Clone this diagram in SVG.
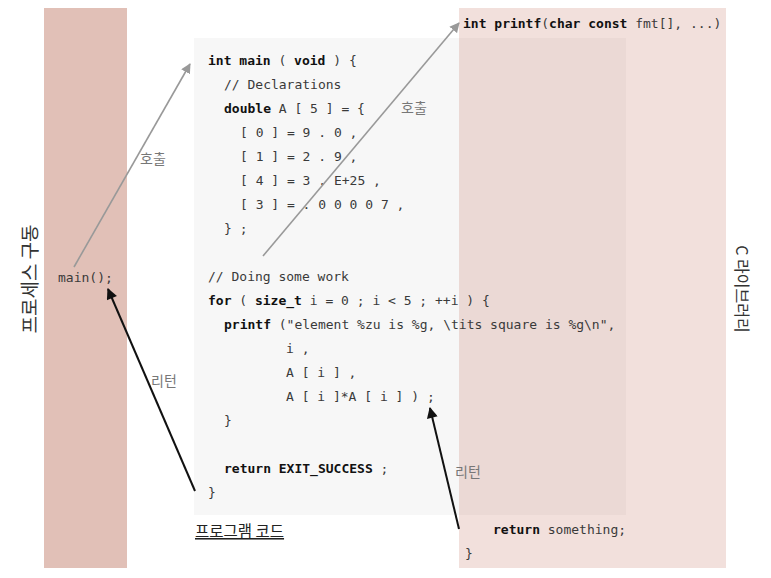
<svg xmlns="http://www.w3.org/2000/svg" width="771" height="578" viewBox="0 0 771 578">
<style>
.code{font-family:"DejaVu Sans Mono","Liberation Mono",monospace;font-size:13px;fill:#3a3a3a}
.b{font-weight:bold;fill:#111}
.ko{font-family:"Noto Sans CJK KR","Noto Sans",sans-serif}
.lbl{font-size:14px;fill:#777}
</style>
<defs>
<marker id="ag" viewBox="0 0 10 10" refX="9" refY="5" markerWidth="10" markerHeight="10" markerUnits="userSpaceOnUse" orient="auto">
<path d="M0,0 L10,5 L0,10 z" fill="#999"/>
</marker>
<marker id="ak" viewBox="0 0 10 10" refX="9" refY="5" markerWidth="12" markerHeight="11" markerUnits="userSpaceOnUse" orient="auto">
<path d="M0,0 L10,5 L0,10 z" fill="#111"/>
</marker>
</defs>
<rect width="771" height="578" fill="#fff"/>

<g id="process">
<rect x="44" y="8" width="83" height="560" fill="#e1c0b7"/>
<text class="ko" transform="translate(37,279) rotate(-90)" text-anchor="middle" font-size="19" fill="#333">프로세스 구동</text>
<text class="code" x="58" y="282">main();</text>
</g>

<g id="program">
<rect x="194" y="38" width="432" height="477" fill="#f7f7f7"/>
<text class="ko" x="195" y="537" font-size="15.5" fill="#222" text-decoration="underline">프로그램 코드</text>
</g>

<g id="library">
<rect x="459" y="8" width="267" height="560" fill="rgb(190,100,80)" fill-opacity="0.2"/>
<text class="ko" transform="translate(736,289) rotate(90)" text-anchor="middle" font-size="16" fill="#333">C 라이브러리</text>
<text class="code" x="463" y="28" font-size="12.6"><tspan class="b">int printf</tspan>(<tspan class="b">char const</tspan> fmt[], ...)</text>
<text class="code" x="493" y="534" font-size="12.6"><tspan class="b">return</tspan> something;</text>
<text class="code" x="465" y="558" font-size="12.6">}</text>
</g>

<g id="code" xml:space="preserve">
<text class="code" x="208" y="65"><tspan class="b">int main</tspan> ( <tspan class="b">void</tspan> ) {</text>
<text class="code" x="224" y="89">// Declarations</text>
<text class="code" x="224" y="113"><tspan class="b">double</tspan> A [ 5 ] = {</text>
<text class="code" x="240" y="137">[ 0 ] = 9 . 0 ,</text>
<text class="code" x="240" y="161">[ 1 ] = 2 . 9 ,</text>
<text class="code" x="240" y="185">[ 4 ] = 3 . E+25 ,</text>
<text class="code" x="240" y="209">[ 3 ] = . 0 0 0 0 7 ,</text>
<text class="code" x="224" y="233">} ;</text>
<text class="code" x="208" y="281">// Doing some work</text>
<text class="code" x="208" y="305"><tspan class="b">for</tspan> ( <tspan class="b">size_t</tspan> i = 0 ; i &lt; 5 ; ++i ) {</text>
<text class="code" x="224" y="329"><tspan class="b">printf</tspan> ("element %zu is %g, \tits square is %g\n",</text>
<text class="code" x="286" y="353">i ,</text>
<text class="code" x="286" y="377">A [ i ] ,</text>
<text class="code" x="286" y="401">A [ i ]*A [ i ] ) ;</text>
<text class="code" x="224" y="425">}</text>
<text class="code" x="224" y="473"><tspan class="b">return EXIT_SUCCESS</tspan> ;</text>
<text class="code" x="208" y="497">}</text>
</g>

<g id="connectors">
<line x1="74" y1="267" x2="190" y2="64" stroke="#999" stroke-width="1.6" marker-end="url(#ag)"/>
<line x1="263" y1="256" x2="459" y2="23" stroke="#999" stroke-width="1.6" marker-end="url(#ag)"/>
<line x1="195" y1="491" x2="108" y2="289" stroke="#111" stroke-width="2" marker-end="url(#ak)"/>
<line x1="459" y1="529" x2="430" y2="408" stroke="#111" stroke-width="2" marker-end="url(#ak)"/>
<text class="ko lbl" x="140" y="164">호출</text>
<text class="ko lbl" x="401" y="113">호출</text>
<text class="ko lbl" x="151" y="386">리턴</text>
<text class="ko lbl" x="455" y="477">리턴</text>
</g>
</svg>
